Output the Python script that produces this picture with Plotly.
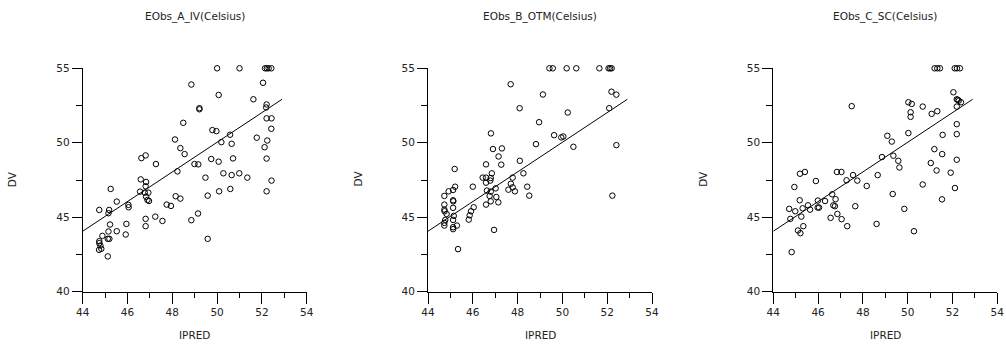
import plotly.graph_objects as go

# ---------------- data ----------------
titles = ["EObs_A_IV(Celsius)", "EObs_B_OTM(Celsius)", "EObs_C_SC(Celsius)"]
x_ticks = [44, 46, 48, 50, 52, 54]
y_ticks = [40, 45, 50, 55]

a_x = [50.0, 51.0, 52.14, 52.22, 52.3, 52.42, 52.05, 51.62, 50.07, 48.85, 49.21, 49.21,
       52.21, 52.19, 48.49, 52.21, 52.43, 52.42, 49.79, 49.97, 50.58, 51.77, 48.12, 52.24,
       50.19, 50.65, 52.12, 48.36, 48.55, 46.62, 46.81, 47.27, 48.99, 49.16, 49.74, 50.71,
       52.21, 50.07, 48.23, 50.28, 50.65, 50.99, 51.35, 49.48, 52.43, 46.59, 46.83, 46.81,
       46.56, 46.77, 46.93, 46.83, 46.89, 46.96, 45.25, 45.52, 46.04, 46.05, 48.15, 48.36,
       47.75, 47.94, 49.58, 50.09, 50.59, 52.21, 44.74, 45.18, 45.15, 46.81, 47.24, 47.56,
       48.85, 49.15, 45.22, 45.95, 46.81, 45.52, 45.15, 45.92, 44.88, 44.74, 44.74, 44.79,
       44.73, 44.83, 45.12, 45.19, 49.58, 45.12]
a_y = [55.0, 55.0, 55.0, 55.0, 55.0, 55.0, 54.03, 52.92, 53.21, 53.91, 52.32, 52.25,
       52.57, 52.37, 51.34, 51.64, 51.64, 50.94, 50.85, 50.78, 50.54, 50.34, 50.22, 50.15,
       50.04, 49.93, 49.7, 49.64, 49.24, 48.97, 49.15, 48.57, 48.57, 48.55, 48.91, 48.95,
       48.94, 48.73, 48.08, 47.95, 47.83, 47.95, 47.66, 47.66, 47.46, 47.54, 47.37, 47.08,
       46.72, 46.65, 46.65, 46.38, 46.16, 46.09, 46.9, 46.05, 45.83, 45.67, 46.41, 46.25,
       45.85, 45.76, 46.45, 46.74, 46.9, 46.74, 45.49, 45.49, 45.27, 44.89, 45.04, 44.75,
       44.8, 45.25, 44.51, 44.55, 44.4, 44.06, 44.04, 43.84, 43.75, 43.39, 43.26, 43.1,
       42.81, 42.88, 43.55, 43.55, 43.55, 42.37]

b_x = [49.42, 49.57, 50.19, 50.62, 51.65, 52.06, 52.13, 52.2, 47.69, 49.13, 48.09, 50.24,
       52.09, 52.19, 52.41, 48.96, 49.63, 49.95, 50.04, 48.82, 50.49, 52.41, 46.81, 46.9,
       47.3, 47.15, 47.27, 48.1, 46.59, 45.19, 46.44, 46.59, 46.8, 46.78, 46.85, 46.59,
       47.78, 47.7, 47.78, 48.26, 45.21, 45.12, 46.0, 44.92, 44.73, 48.43, 48.52, 47.59,
       47.88, 46.63, 46.8, 46.75, 46.8, 47.02, 47.05, 47.14, 46.59, 45.12, 45.13, 45.12,
       44.73, 44.73, 44.74, 44.83, 46.04, 45.92, 45.86, 45.82, 45.15, 45.12, 44.77, 44.73,
       44.73, 45.12, 45.12, 45.29, 46.95, 45.34, 52.23]
b_y = [55.0, 55.0, 55.0, 55.0, 55.0, 55.0, 55.0, 55.0, 53.93, 53.24, 52.32, 52.03,
       52.32, 53.43, 53.23, 51.38, 50.51, 50.36, 50.42, 49.91, 49.73, 49.84, 50.63, 49.58,
       49.62, 49.08, 48.53, 48.79, 48.55, 48.24, 47.66, 47.66, 47.63, 47.46, 47.95, 47.32,
       47.66, 47.25, 47.01, 47.95, 47.05, 46.83, 47.05, 46.74, 46.43, 47.05, 46.45, 46.85,
       46.74, 46.79, 46.72, 46.43, 46.07, 46.94, 46.36, 46.0, 45.85, 46.14, 46.07, 45.63,
       45.85, 45.51, 45.4, 45.22, 45.67, 45.4, 45.13, 44.84, 45.09, 44.82, 44.82, 44.62,
       44.44, 44.33, 44.2, 44.44, 44.15, 42.86, 46.45]

c_x = [51.2, 51.32, 51.44, 52.1, 52.2, 52.33, 52.04, 52.19, 52.23, 52.28, 52.38, 52.19,
       50.03, 50.18, 50.67, 50.13, 50.13, 51.07, 51.32, 52.19, 52.19, 51.56, 50.03, 49.09,
       49.29, 48.85, 49.36, 49.58, 49.63, 51.19, 51.54, 52.19, 51.03, 51.29, 51.92, 50.67,
       52.11, 49.33, 51.53, 49.85, 50.28, 48.61, 48.66, 48.17, 47.5, 47.56, 47.75, 47.27,
       46.84, 47.04, 47.66, 47.3, 47.05, 46.86, 46.56, 46.63, 46.78, 46.68, 46.75, 46.31,
       45.99, 45.98, 46.04, 45.9, 45.19, 45.41, 44.94, 45.18, 45.55, 45.64, 45.31, 44.98,
       44.71, 45.25, 44.76, 45.34, 45.1, 45.21, 44.82]
c_y = [55.0, 55.0, 55.0, 55.0, 55.0, 55.0, 53.39, 52.92, 52.88, 52.83, 52.72, 52.43,
       52.72, 52.61, 52.43, 52.05, 51.74, 51.94, 52.12, 51.25, 50.58, 50.53, 50.65, 50.47,
       50.08, 49.04, 49.13, 48.79, 48.34, 49.57, 49.24, 48.86, 48.64, 48.14, 47.99, 47.2,
       46.96, 46.56, 46.2, 45.56, 44.06, 44.55, 47.83, 47.1, 52.46, 47.83, 47.46, 47.48,
       48.04, 48.04, 45.74, 44.4, 44.87, 45.22, 44.96, 46.54, 46.21, 45.8, 45.74, 46.09,
       46.12, 45.65, 45.65, 47.43, 47.92, 48.04, 47.03, 46.14, 45.8, 45.51, 45.6, 45.4,
       45.56, 45.04, 44.89, 44.4, 44.11, 43.93, 42.66]

line_x = [44.0, 52.9]
line_y = [44.06, 52.92]

panels = [(a_x, a_y), (b_x, b_y), (c_x, c_y)]

# ---------------- layout geometry ----------------
W, H = 1006, 347
x_left_px = [82.7, 428.0, 773.3]
plot_w_px = 224.0
y_top_px, y_bot_px = 68.3, 291.7
FONT = "DejaVu Sans, Verdana, sans-serif"

fig = go.Figure()
layout = dict(
    width=W, height=H, margin=dict(l=0, r=0, t=0, b=0, autoexpand=False),
    paper_bgcolor="white", plot_bgcolor="white", showlegend=False,
    font=dict(family=FONT, size=10.5, color="#222"),
)
annotations = []
for i, (px, py) in enumerate(panels):
    sfx = "" if i == 0 else str(i + 1)
    xa, ya = "x" + sfx, "y" + sfx
    fig.add_trace(go.Scatter(x=px, y=py, mode="markers", xaxis=xa, yaxis=ya,
                             cliponaxis=False,
                             marker=dict(symbol="circle-open", size=5.5, color="black",
                                         line=dict(width=1, color="black"))))
    fig.add_trace(go.Scatter(x=line_x, y=line_y, mode="lines", xaxis=xa, yaxis=ya,
                             line=dict(color="black", width=1)))
    x0 = x_left_px[i] / W
    x1 = (x_left_px[i] + plot_w_px) / W
    common = dict(showline=True, linecolor="black", linewidth=1, showgrid=False,
                  zeroline=False, ticks="outside", tickcolor="black", tickwidth=1,
                  automargin=False,
                  tickfont=dict(family=FONT, size=10.5, color="#222"))
    layout["xaxis" + sfx] = dict(domain=[x0, x1], range=[44, 54], tickvals=x_ticks,
                                 ticklen=11, anchor=ya,
                                 minor=dict(dtick=1, tick0=44, ticklen=5, ticks="outside",
                                            tickcolor="black", showgrid=False),
                                 **common)
    layout["yaxis" + sfx] = dict(domain=[1 - y_bot_px / H, 1 - y_top_px / H], range=[40, 55],
                                 tickvals=y_ticks, ticklen=10, anchor=xa,
                                 minor=dict(dtick=2.5, tick0=40, ticklen=6, ticks="outside",
                                            tickcolor="black", showgrid=False),
                                 **common)
    cx = (x_left_px[i] + plot_w_px / 2) / W
    annotations.append(dict(text=titles[i], x=cx, y=1 - 16 / H, xref="paper", yref="paper",
                            xanchor="center", yanchor="middle", showarrow=False,
                            font=dict(family=FONT, size=10.5, color="#222")))
    annotations.append(dict(text="IPRED", x=cx, y=1 - 335 / H, xref="paper", yref="paper",
                            xanchor="center", yanchor="middle", showarrow=False,
                            font=dict(family=FONT, size=10.5, color="#222")))
    annotations.append(dict(text="DV", x=(x_left_px[i] - 70.5) / W, y=1 - 179 / H,
                            xref="paper", yref="paper", textangle=-90,
                            xanchor="center", yanchor="middle", showarrow=False,
                            font=dict(family=FONT, size=10.5, color="#222")))
layout["annotations"] = annotations
fig.update_layout(**layout)
fig.write_html("out.html")
